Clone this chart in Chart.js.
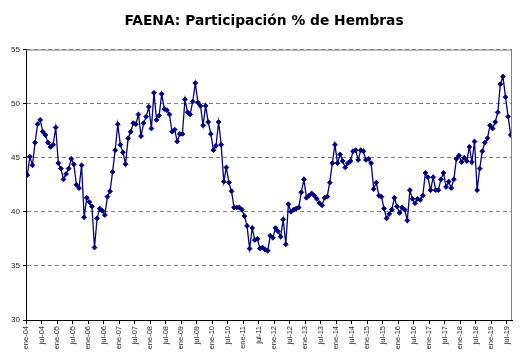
<!DOCTYPE html>
<html>
<head>
<meta charset="utf-8">
<script src="https://cdn.jsdelivr.net/npm/chart.js@4/dist/chart.umd.min.js"></script>
<style>
  html, body { margin: 0; padding: 0; background: #fff; }
  #chart { display: block; }
</style>
</head>
<body>
<canvas id="chart" width="528" height="359"></canvas>
<script>
// monthly share of females in slaughter (%), ene-04 .. ago-19
const hembras = [
  43.4, 45.1, 44.3, 46.4, 48.1, 48.5, 47.4, 47.1, 46.4, 46.0, 46.2, 47.8,
  44.5, 44.0, 43.0, 43.5, 44.0, 44.9, 44.4, 42.5, 42.2, 44.3, 39.5, 41.3,
  40.9, 40.5, 36.7, 39.4, 40.3, 40.1, 39.7, 41.4, 41.9, 43.7, 45.7, 48.1,
  46.2, 45.5, 44.4, 46.8, 47.4, 48.2, 48.1, 49.0, 47.0, 48.2, 48.8, 49.7,
  47.7, 51.0, 48.5, 48.9, 50.9, 49.5, 49.4, 49.0, 47.4, 47.6, 46.5, 47.2,
  47.2, 50.4, 49.2, 49.0, 50.2, 51.9, 50.1, 49.8, 48.0, 49.8, 48.3, 47.2,
  45.7, 46.1, 48.3, 46.2, 42.8, 44.1, 42.7, 41.9, 40.4, 40.4, 40.4, 40.2,
  39.6, 38.7, 36.6, 38.5, 37.4, 37.5, 36.6, 36.7, 36.5, 36.4, 37.8, 37.6,
  38.5, 38.2, 37.7, 39.3, 37.0, 40.7, 40.0, 40.2, 40.3, 40.4, 41.8, 43.0,
  41.3, 41.5, 41.7, 41.5, 41.2, 40.8, 40.6, 41.3, 41.4, 42.7, 44.5, 46.2,
  44.5, 45.3, 44.7, 44.1, 44.5, 44.7, 45.6, 45.7, 44.8, 45.7, 45.6, 44.8,
  44.9, 44.5, 42.1, 42.7, 41.5, 41.4, 40.3, 39.4, 39.8, 40.2, 41.3, 40.5,
  39.9, 40.4, 40.2, 39.2, 42.0, 41.2, 40.8, 41.2, 41.1, 41.5, 43.6, 43.2,
  42.0, 43.2, 42.0, 42.0, 43.0, 43.6, 42.3, 42.8, 42.2, 43.0, 44.9, 45.2,
  44.6, 45.0, 44.7, 46.0, 44.6, 46.5, 42.0, 44.0, 45.6, 46.4, 46.8, 48.0,
  47.7, 48.3, 49.2, 51.8, 52.5, 50.6, 48.8, 47.1
];

const monthNames = ['ene', 'feb', 'mar', 'abr', 'may', 'jun', 'jul', 'ago', 'sep', 'oct', 'nov', 'dic'];
const firstYear = 2004;
const meses = hembras.map((v, i) => monthNames[i % 12] + '-' + String((firstYear + Math.floor(i / 12)) % 100).padStart(2, '0'));

const tickLabels = [
  'ene-04', 'jul-04', 'ene-05', 'jul-05', 'ene-06', 'jul-06', 'ene-07', 'jul-07',
  'ene-08', 'jul-08', 'ene-09', 'jul-09', 'ene-10', 'jul-10', 'ene-11', 'jul-11',
  'ene-12', 'jul-12', 'ene-13', 'jul-13', 'ene-14', 'jul-14', 'ene-15', 'jul-15',
  'ene-16', 'jul-16', 'ene-17', 'jul-17', 'ene-18', 'jul-18', 'ene-19', 'jul-19'
];
const yTicks = [30, 35, 40, 45, 50, 55];

const FONT = '"Liberation Sans", Arial, sans-serif';
const NAVY = '#000080';

// gray frame on top and right of the plot area, like the excel chart
const plotFrame = {
  id: 'plotFrame',
  afterLayout(chart) {
    // center the title on the whole canvas, not on the padded area
    if (chart.titleBlock) {
      chart.titleBlock.left = 0;
      chart.titleBlock.right = chart.width;
    }
  },
  afterDatasetsDraw(chart) {
    const a = chart.chartArea;
    const ctx = chart.ctx;
    ctx.save();
    ctx.strokeStyle = '#808080';
    ctx.lineWidth = 1;
    ctx.beginPath();
    ctx.moveTo(a.left, a.top + 0.5);
    ctx.lineTo(a.right - 0.5, a.top + 0.5);
    ctx.lineTo(a.right - 0.5, a.bottom);
    ctx.stroke();
    ctx.restore();
  }
};

new Chart(document.getElementById('chart'), {
  type: 'line',
  data: {
    datasets: [{
      label: 'Hembras',
      data: hembras.map((v, i) => ({ x: i + 0.5, y: v, mes: meses[i] })),
      borderColor: NAVY,
      backgroundColor: NAVY,
      borderWidth: 1.3,
      pointStyle: 'rectRot',
      pointRadius: 2.4,
      pointBorderWidth: 1,
      tension: 0
    }]
  },
  options: {
    responsive: false,
    animation: false,
    layout: { padding: { left: 0, right: 16, top: 0, bottom: 0 } },
    plugins: {
      legend: { display: false },
      tooltip: { enabled: false },
      title: {
        display: true,
        text: 'FAENA: Participación % de Hembras',
        color: '#000',
        font: { family: '"DejaVu Sans", Arial, sans-serif', size: 13.8, weight: 'bold' },
        padding: { top: 13, bottom: 20 }
      }
    },
    scales: {
      x: {
        type: 'linear',
        min: 0,
        max: hembras.length,
        afterBuildTicks(scale) {
          scale.ticks = tickLabels.map((t, i) => ({ value: i * 6 }));
        },
        afterFit(scale) { scale.height = 39; },
        ticks: {
          autoSkip: false,
          minRotation: 90,
          maxRotation: 90,
          padding: 2,
          color: '#222',
          font: { family: FONT, size: 7.5 },
          callback: (v, i) => tickLabels[i]
        },
        grid: { drawOnChartArea: false, color: '#000', tickLength: 4 },
        border: { color: '#000', width: 1 }
      },
      y: {
        min: 30,
        max: 55,
        afterBuildTicks(scale) {
          scale.ticks = yTicks.map(v => ({ value: v }));
        },
        afterFit(scale) { scale.width = 26; },
        ticks: {
          padding: 3,
          color: '#222',
          font: { family: FONT, size: 8 }
        },
        grid: {
          color: ctx => (ctx.tick && ctx.tick.value === 30) ? 'rgba(0,0,0,0)' : '#808080',
          tickColor: '#000',
          tickLength: 3,
          tickBorderDash: []
        },
        border: { color: '#000', width: 1, dash: [4, 3] }
      }
    }
  },
  plugins: [plotFrame]
});
</script>
</body>
</html>
